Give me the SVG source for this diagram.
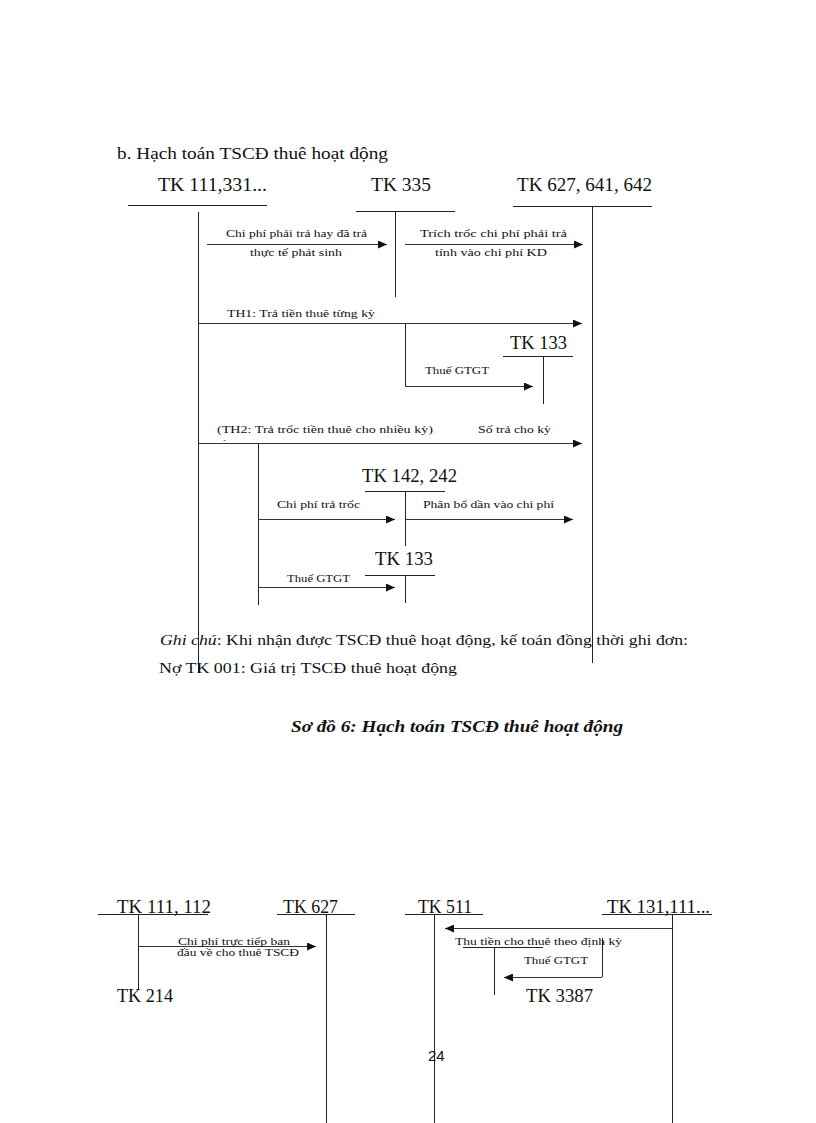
<svg xmlns="http://www.w3.org/2000/svg" width="816" height="1123" viewBox="0 0 816 1123">
<style>
text{font-family:"Liberation Serif","Times New Roman",serif;fill:#111}
.h{font-size:18px}
.s{font-size:11px}
.b{font-size:15px}
.ln{stroke:#222;stroke-width:1;fill:none}
.ar{stroke:#333;stroke-width:1;fill:none;marker-end:url(#ah)}
</style>
<defs>
<marker id="ah" markerWidth="10" markerHeight="8" refX="9" refY="4" orient="auto" markerUnits="userSpaceOnUse">
<path d="M0,0 L9,4 L0,8 Z" fill="#111"/>
</marker>
<clipPath id="cl"><rect x="210" y="436" width="40" height="6"/></clipPath>
</defs>
<rect width="816" height="1123" fill="#fff"/>

<text x="117" y="159" font-size="17" textLength="271" lengthAdjust="spacingAndGlyphs">b. Hạch toán TSCĐ thuê hoạt động</text>

<g id="tk111_331">
<text class="h" x="158" y="191" textLength="109" lengthAdjust="spacingAndGlyphs">TK 111,331...</text>
<line class="ln" x1="128" y1="205.5" x2="267" y2="205.5"/>
<line class="ln" x1="198.5" y1="212" x2="198.5" y2="673"/>
</g>
<g id="tk335">
<text class="h" x="371" y="191" textLength="60" lengthAdjust="spacingAndGlyphs">TK 335</text>
<line class="ln" x1="356" y1="211.5" x2="455" y2="211.5"/>
<line class="ln" x1="395.5" y1="211" x2="395.5" y2="297"/>
</g>
<g id="tk627_641_642">
<text class="h" x="517" y="191" textLength="135" lengthAdjust="spacingAndGlyphs">TK 627, 641, 642</text>
<line class="ln" x1="513" y1="206.5" x2="652" y2="206.5"/>
<line class="ln" x1="592.5" y1="206" x2="592.5" y2="663"/>
</g>
<g id="tk133_a">
<text class="h" x="510" y="349" textLength="57" lengthAdjust="spacingAndGlyphs">TK 133</text>
<line class="ln" x1="503" y1="356.5" x2="573" y2="356.5"/>
<line class="ln" x1="543.5" y1="356" x2="543.5" y2="404"/>
</g>
<g id="tk142_242">
<text class="h" x="362" y="482" textLength="95" lengthAdjust="spacingAndGlyphs">TK 142, 242</text>
<line class="ln" x1="365" y1="491.5" x2="445" y2="491.5"/>
<line class="ln" x1="405.5" y1="491" x2="405.5" y2="546"/>
</g>
<g id="tk133_b">
<text class="h" x="375" y="565" textLength="58" lengthAdjust="spacingAndGlyphs">TK 133</text>
<line class="ln" x1="365" y1="575.5" x2="435" y2="575.5"/>
<line class="ln" x1="405.5" y1="575" x2="405.5" y2="603"/>
</g>

<g id="connectors">
<line class="ar" x1="207" y1="244.5" x2="387" y2="244.5"/>
<line class="ar" x1="405" y1="244.5" x2="583" y2="244.5"/>
<line class="ar" x1="198" y1="323.5" x2="582" y2="323.5"/>
<polyline class="ln" points="405.5,324 405.5,387"/>
<line class="ar" x1="405" y1="386.5" x2="533" y2="386.5"/>
<line class="ar" x1="198" y1="443.5" x2="582" y2="443.5"/>
<line class="ln" x1="258.5" y1="443" x2="258.5" y2="605"/>
<line class="ar" x1="258" y1="519.5" x2="395" y2="519.5"/>
<line class="ar" x1="405" y1="519.5" x2="573" y2="519.5"/>
<line class="ar" x1="258" y1="587.5" x2="395" y2="587.5"/>
<line class="ar" x1="138" y1="946.5" x2="316" y2="946.5"/>
<line class="ar" x1="672" y1="928.5" x2="445" y2="928.5"/>
<polyline class="ln" points="602.5,938 602.5,977"/>
<line class="ar" x1="602" y1="977.5" x2="504" y2="977.5"/>
</g>

<g id="labels">
<text class="s" x="226" y="237" textLength="141" lengthAdjust="spacingAndGlyphs">Chi phí phải trả hay đã trả</text>
<text class="s" x="250" y="256" textLength="92" lengthAdjust="spacingAndGlyphs">thực tế phát sinh</text>
<text class="s" x="420" y="237" textLength="147" lengthAdjust="spacingAndGlyphs">Trích trốc   chi phí phải trả</text>
<text class="s" x="435" y="256" textLength="112" lengthAdjust="spacingAndGlyphs">tính vào chi phí KD</text>
<text class="s" x="227" y="317" textLength="148" lengthAdjust="spacingAndGlyphs">TH1: Trả tiền thuê từng kỳ</text>
<text class="s" x="425" y="374" textLength="64" lengthAdjust="spacingAndGlyphs">Thuế GTGT</text>
<text class="s" x="217" y="433" textLength="216" lengthAdjust="spacingAndGlyphs">(TH2: Trả trốc   tiền thuê cho nhiều kỳ)</text>
<text class="s" x="217" y="447" clip-path="url(#cl)">này</text>
<text class="s" x="478" y="433" textLength="73" lengthAdjust="spacingAndGlyphs">Số trả cho kỳ</text>
<text class="s" x="277" y="508" textLength="83" lengthAdjust="spacingAndGlyphs">Chi phí trả trốc</text>
<text class="s" x="423" y="508" textLength="131" lengthAdjust="spacingAndGlyphs">Phân bổ dần vào chi phí</text>
<text class="s" x="287" y="582" textLength="63" lengthAdjust="spacingAndGlyphs">Thuế GTGT</text>
</g>

<text class="b" x="160" y="645" textLength="528" lengthAdjust="spacingAndGlyphs"><tspan font-style="italic">Ghi chú</tspan>: Khi nhận được TSCĐ  thuê hoạt động, kế toán đồng thời ghi đơn:</text>
<text class="b" x="159" y="673" textLength="298" lengthAdjust="spacingAndGlyphs">Nợ TK 001: Giá trị TSCĐ  thuê hoạt động</text>
<text x="291" y="732" font-size="17" font-weight="bold" font-style="italic" textLength="332" lengthAdjust="spacingAndGlyphs">Sơ đồ 6: Hạch toán TSCĐ thuê hoạt động</text>

<g id="tk111_112">
<text class="h" x="117" y="913" textLength="94" lengthAdjust="spacingAndGlyphs">TK 111, 112</text>
<line class="ln" x1="98" y1="914.5" x2="208" y2="914.5"/>
<line class="ln" x1="138.5" y1="914" x2="138.5" y2="990"/>
<text class="h" x="117" y="1002" textLength="56" lengthAdjust="spacingAndGlyphs">TK 214</text>
</g>
<g id="tk627">
<text class="h" x="283" y="913" textLength="55" lengthAdjust="spacingAndGlyphs">TK 627</text>
<line class="ln" x1="277" y1="914.5" x2="355" y2="914.5"/>
<line class="ln" x1="326.5" y1="914" x2="326.5" y2="1123"/>
</g>
<g id="tk511">
<text class="h" x="418" y="913" textLength="54" lengthAdjust="spacingAndGlyphs">TK 511</text>
<line class="ln" x1="405" y1="914.5" x2="483" y2="914.5"/>
<line class="ln" x1="434.5" y1="914" x2="434.5" y2="1123"/>
</g>
<g id="tk131_111">
<text class="h" x="607" y="913" textLength="103" lengthAdjust="spacingAndGlyphs">TK 131,111...</text>
<line class="ln" x1="602" y1="914.5" x2="712" y2="914.5"/>
<line class="ln" x1="672.5" y1="914" x2="672.5" y2="1123"/>
</g>
<g id="tk3387">
<line class="ln" x1="463" y1="947.5" x2="543" y2="947.5"/>
<line class="ln" x1="494.5" y1="947" x2="494.5" y2="995"/>
<text class="h" x="526" y="1002" textLength="67" lengthAdjust="spacingAndGlyphs">TK 3387</text>
</g>
<g id="labels2">
<text class="s" x="178" y="945" textLength="112" lengthAdjust="spacingAndGlyphs">Chi phí trực tiếp ban</text>
<text class="s" x="177" y="956" textLength="122" lengthAdjust="spacingAndGlyphs">đầu về cho thuê TSCĐ</text>
<text class="s" x="455" y="945" textLength="167" lengthAdjust="spacingAndGlyphs">Thu tiền cho thuê theo định kỳ</text>
<text class="s" x="524" y="964" textLength="64" lengthAdjust="spacingAndGlyphs">Thuế GTGT</text>
</g>
<text x="428" y="1061" font-family="Liberation Sans, Arial, sans-serif" font-size="15" style="font-family:'Liberation Sans',Arial,sans-serif">24</text>
</svg>
